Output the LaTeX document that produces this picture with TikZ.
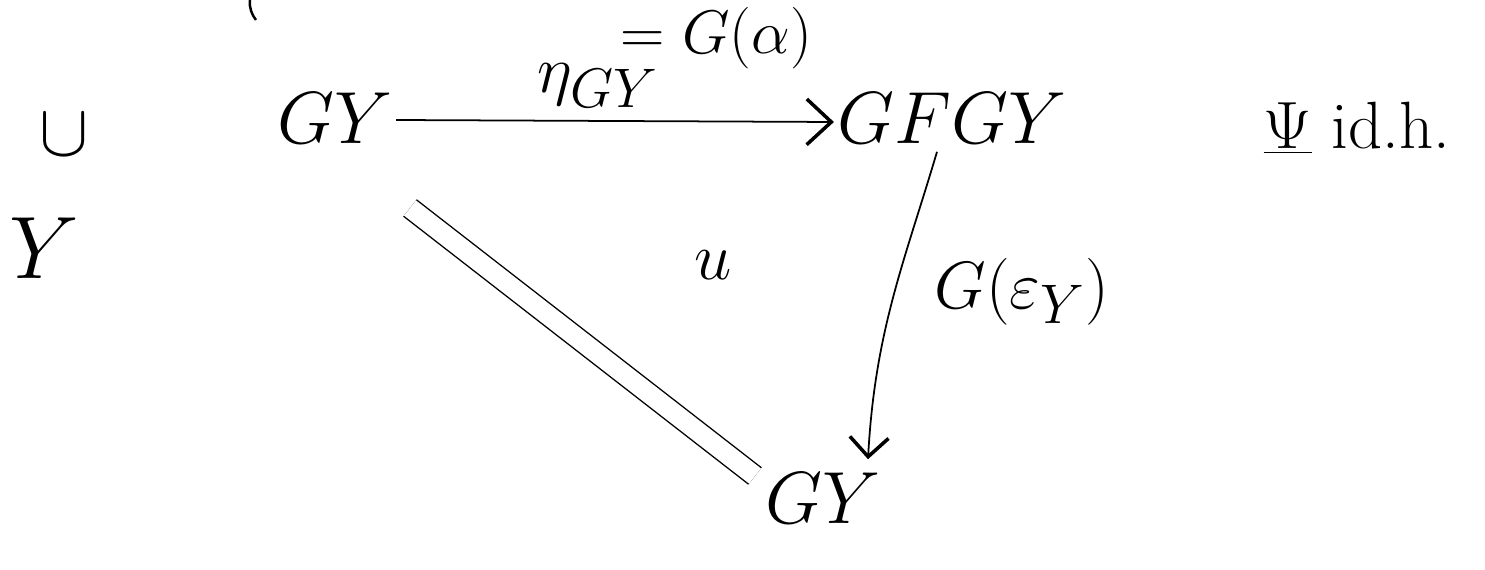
\documentclass[tikz,border=0pt]{standalone}
\usetikzlibrary{arrows.meta,calc}
\begin{document}
\begin{tikzpicture}[x=0.02cm,y=-0.02cm,
  obj/.style={inner sep=1pt,font=\Huge,scale=1.69},
  lbl/.style={inner sep=1pt,font=\Huge,scale=1.53},
  arr/.style={line width=1pt,-{Straight Barb[length=14pt,width=26pt,line width=2pt]}},
  arrb/.style={line width=1pt,-{Straight Barb[length=11pt,width=22pt,line width=2pt]}},
  eqline/.style={line width=0.8pt,double,double distance=11pt}]
\useasboundingbox (0,0) rectangle (1485,570);
% objects
\node[obj] (gy) at (335,118) {$GY$};
\node[obj] (gfgy) at (952,118) {$GFGY$};
\node[obj] (gu) at (823,498) {$GY$};
% stray marks at the left and top
\node[obj] (lu) at (64,135) {$\cup$};
\node[obj,scale=1.2] (ly) at (44,248) {$Y$};
\draw[line width=1.4pt] (250,0) .. controls (249,8) and (252,15) .. (256,20);
% right annotation
\node[lbl] (note) at (1357,128) {$\underline{\Psi}$ id.h.};
% arrows
\draw[arr] ($(gy.east)+(0,2)$) -- ($(gfgy.west)+(0,4)$);
\node[lbl] (eta) at (598,86) {$\eta_{GY}$};
\node[lbl,anchor=west,scale=0.92] (ga) at (618,38) {$=G(\alpha)$};
\draw[arrb] ($(gfgy.south)+(-15,5)$) .. controls (905,260) and (875,330) .. ($(gu.north)+(45,-10)$);
\node[lbl] (ge) at (1022,292) {$G(\varepsilon_Y)$};
\draw[eqline] ($(gy)+(75,90)$) -- ($(gu)+(-68,-22)$);
\node[lbl] (u) at (713,265) {$u$};
\end{tikzpicture}
\end{document}
